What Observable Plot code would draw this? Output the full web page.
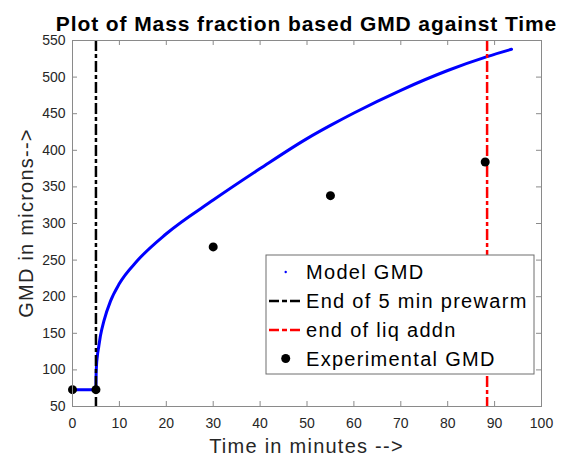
<!DOCTYPE html>
<html><head><meta charset="utf-8">
<script src="https://cdn.jsdelivr.net/npm/d3@7"></script>
<script src="https://cdn.jsdelivr.net/npm/@observablehq/plot@0.6"></script>
<style>
body{margin:0;background:#fff}
svg{font-family:"Liberation Sans",Arial,sans-serif}
</style>
</head><body><div id="chart"></div>
<script>
// ---- data ----
const modelTime = [0, 5, 5.02, 5.1, 5.3, 5.6, 6.0, 6.7, 8.1, 10, 13.8, 20, 30, 40, 50, 55, 60, 70, 80, 88.4, 93.6];
const modelGMD  = [73, 73, 89, 104, 119, 132, 148, 167, 194, 218, 249, 286, 332, 375, 416, 434, 451, 482, 509, 528, 538];
const expTime = [0, 5, 30, 55, 88];
const expGMD  = [73, 73, 268, 338, 384];
const prewarmEnd = [5];
const liqAddnEnd = [88.4];
const xTicks = [0, 10, 20, 30, 40, 50, 60, 70, 80, 90, 100];
const yTicks = [50, 100, 150, 200, 250, 300, 350, 400, 450, 500, 550];
const legendLabels = ["Model GMD", "End of 5 min prewarm", "end of liq addn", "Experimental GMD"];
const titleText = "Plot of Mass fraction based GMD against Time";
const xLabelText = "Time in minutes -->";
const yLabelText = "GMD in microns-->";

// ---- layout ----
const W = 561, H = 459, mL = 72, mR = 20, mT = 40, mB = 53;
const pw = W - mL - mR, ph = H - mT - mB;
const axisGray = "#8a8a8a";
const tickText = "#262626";

const model = modelTime.map((t, i) => ({t, g: modelGMD[i]}));
const exper = expTime.map((t, i) => ({t, g: expGMD[i]}));

const chart = Plot.plot({
  width: W, height: H,
  marginLeft: mL, marginRight: mR, marginTop: mT, marginBottom: mB,
  x: {domain: [0, 100]},
  y: {domain: [50, 550]},
  style: {fontFamily: '"Liberation Sans", Arial, sans-serif', background: "white"},
  marks: [
    Plot.axisX(xTicks, {tickSize: 0, tickPadding: 12, fontSize: 14, fill: tickText, label: null}),
    Plot.axisY(yTicks, {tickSize: 0, tickPadding: 7, fontSize: 14, fill: tickText, label: null}),
    Plot.ruleX(xTicks, {x: d => d, insetTop: ph - 5, stroke: axisGray}),
    Plot.ruleX(xTicks, {x: d => d, insetBottom: ph - 5, stroke: axisGray}),
    Plot.ruleY(yTicks, {y: d => d, insetRight: pw - 5, stroke: axisGray}),
    Plot.ruleY(yTicks, {y: d => d, insetLeft: pw - 5, stroke: axisGray}),
    Plot.line(model, {x: "t", y: "g", stroke: "#0000ff", strokeWidth: 3, curve: "monotone-x"}),
    Plot.ruleX(prewarmEnd, {x: d => d, stroke: "black", strokeWidth: 2.5, strokeDasharray: "11,3,4,3"}),
    Plot.ruleX(liqAddnEnd, {x: d => d, stroke: "#ff0000", strokeWidth: 2.5, strokeDasharray: "11,3,4,3"}),
    Plot.dot(exper, {x: "t", y: "g", r: 4.5, fill: "black", stroke: "none"}),
    Plot.frame({stroke: axisGray})
  ]
});
document.getElementById("chart").appendChild(chart);

const svg = d3.select(chart);
// title
svg.append("text").attr("x", 306.5).attr("y", 31).attr("text-anchor", "middle")
  .attr("font-weight", "bold").attr("font-size", 21).style("letter-spacing", "0.9px")
  .attr("fill", "black").text(titleText);
// axis labels
svg.append("text").attr("x", 306.5).attr("y", 453).attr("text-anchor", "middle")
  .attr("font-size", 20).style("letter-spacing", "1.25px").attr("fill", tickText).text(xLabelText);
svg.append("text").attr("transform", "translate(33,223) rotate(-90)").attr("text-anchor", "middle")
  .attr("font-size", 20).style("letter-spacing", "1.25px").attr("fill", tickText).text(yLabelText);

// legend
const lg = svg.append("g");
lg.append("rect").attr("x", 266).attr("y", 255).attr("width", 268).attr("height", 119)
  .attr("fill", "white").attr("stroke", "#6e6e6e").attr("stroke-width", 1);
const rowY = [272, 301, 330, 358.5];
lg.append("circle").attr("cx", 285.7).attr("cy", rowY[0]).attr("r", 1.2).attr("fill", "#0000ff");
lg.append("line").attr("x1", 269).attr("x2", 301).attr("y1", rowY[1]).attr("y2", rowY[1])
  .attr("stroke", "black").attr("stroke-width", 2.5).attr("stroke-dasharray", "10,3,5,3");
lg.append("line").attr("x1", 269).attr("x2", 301).attr("y1", rowY[2]).attr("y2", rowY[2])
  .attr("stroke", "#ff0000").attr("stroke-width", 2.5).attr("stroke-dasharray", "10,3,5,3");
lg.append("circle").attr("cx", 285.7).attr("cy", rowY[3]).attr("r", 4.5).attr("fill", "black");
legendLabels.forEach((s, i) => {
  lg.append("text").attr("x", 306).attr("y", rowY[i] + 7).attr("font-size", 20)
    .attr("text-anchor", "start")
    .style("letter-spacing", "1.3px").attr("fill", "black").text(s);
});
</script>
</body></html>
